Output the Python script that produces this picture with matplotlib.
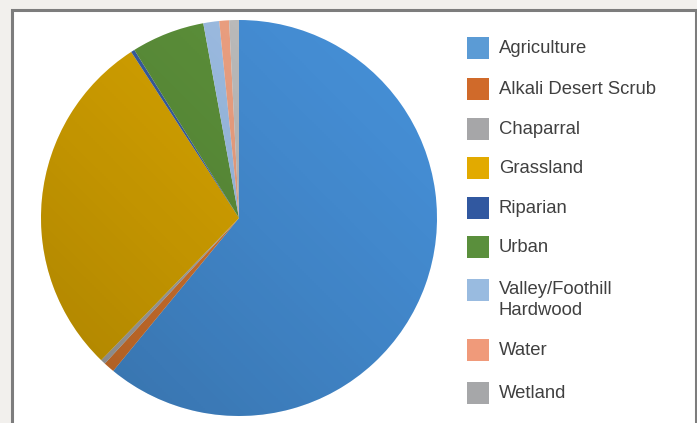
import numpy as np
import matplotlib.pyplot as plt
from matplotlib.patches import Rectangle, Circle

# land cover shares (percent)
categories = ["Agriculture", "Alkali Desert Scrub", "Chaparral", "Grassland",
              "Riparian", "Urban", "Valley/Foothill\nHardwood", "Water", "Wetland"]
shares = [61.2, 0.9, 0.4, 28.7, 0.3, 6.0, 1.3, 0.8, 0.8]

pie_colors = ["#4690d8", "#d8762e", "#a8a8a8", "#dba700", "#3a5fa3",
              "#5e933b", "#a0c1e8", "#f2a484", "#c0c0c0"]
key_colors = ["#5b9bd5", "#d06a2a", "#a6a6a8", "#e2aa00", "#3158a0",
              "#5a8f3c", "#99bbe0", "#f09a7a", "#a6a7a9"]

W, H = 697, 423
fig = plt.figure(figsize=(W / 100, H / 100), dpi=100)
fig.patch.set_facecolor("#f2f0ed")

# white chart box with grey frame
fig.patches.append(Rectangle((12 / W, -0.05), (696 - 12) / W, (H - 10) / H + 0.05,
                             transform=fig.transFigure, facecolor="white",
                             edgecolor="#7d7d7d", linewidth=2.2, zorder=-5))

# pie
cx, cy, r = 239, 218, 198
ax = fig.add_axes([(cx - r) / W, (H - cy - r) / H, 2 * r / W, 2 * r / H])
ax.set_zorder(5)
ax.pie(shares, colors=pie_colors, startangle=90, counterclock=False,
       radius=1, wedgeprops=dict(linewidth=0))

# soft shading, darker toward the lower left like the original
gx, gy = np.meshgrid(np.linspace(-1, 1, 200), np.linspace(-1, 1, 200))
shade = np.zeros((200, 200, 4))
shade[..., 3] = np.clip(0.22 * (1 - (gx + gy + 2) / 4) ** 1.3, 0, 0.22)
im = ax.imshow(shade, extent=(-1, 1, -1, 1), origin="lower", zorder=3)
im.set_clip_path(Circle((0, 0), 1, transform=ax.transData))

ax.set_xlim(-1, 1)
ax.set_ylim(-1, 1)
ax.set_aspect("auto")
ax.axis("off")

# legend drawn by hand so the two-line label lines up like the original
row_y = [48, 89, 129, 168, 208, 247, 290, 350, 393]   # pixel rows from the top
for lab, col, y in zip(categories, key_colors, row_y):
    fig.patches.append(Rectangle((467 / W, (H - y - 11) / H), 22 / W, 22 / H,
                                 transform=fig.transFigure, facecolor=col,
                                 edgecolor="none", zorder=2))
    ty = y + 10 if "\n" in lab else y
    fig.text(499 / W, (H - ty) / H, lab, fontsize=13.3, family="Liberation Sans",
             color="#404040", va="center", linespacing=1.33)

fig.savefig("out.png", dpi=100, facecolor=fig.get_facecolor())
